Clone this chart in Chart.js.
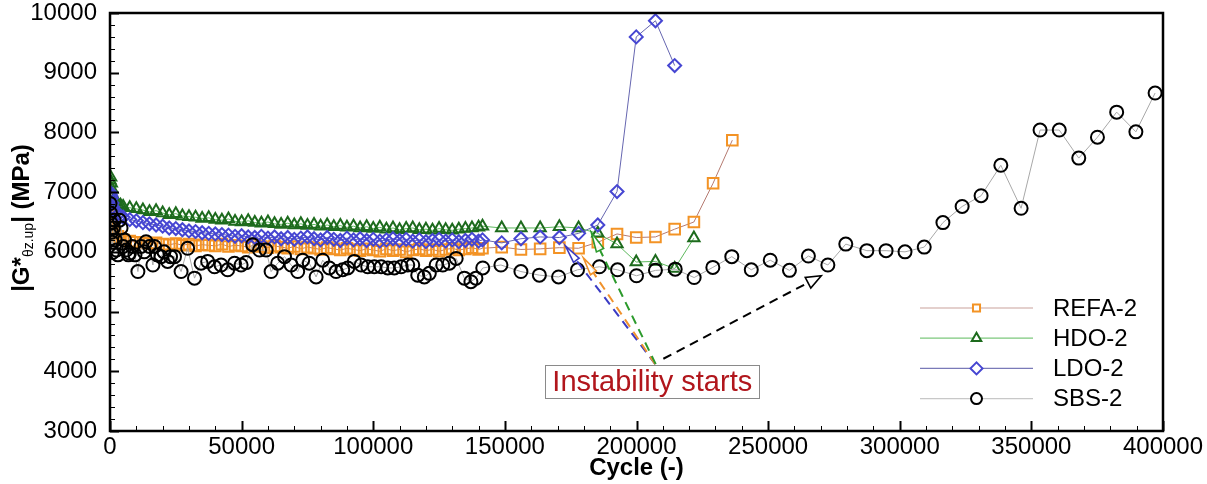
<!DOCTYPE html>
<html><head><meta charset="utf-8">
<script src="https://cdn.jsdelivr.net/npm/chart.js@4.4.1/dist/chart.umd.min.js"></script>
<style>html,body{margin:0;padding:0;background:#fff}#wrap{width:1207px;height:484px}</style>
</head><body><div id="wrap"><canvas id="c" width="1207" height="484"></canvas></div>
<script>
// ---------- data ----------
const seriesNames = ['REFA-2', 'HDO-2', 'LDO-2', 'SBS-2'];
const xTickValues = [0, 50000, 100000, 150000, 200000, 250000, 300000, 350000, 400000];
const yTickValues = [3000, 4000, 5000, 6000, 7000, 8000, 9000, 10000];

const cyclesDense = [0,250,500,750,1000,1500,2000,3000,4000,5000,7500,10000,12500,15000,17500,20000,22500,25000,27500,30000,32500,35000,37500,40000,42500,45000,47500,50000,52500,55000,57500,60000,62500,65000,67500,70000,72500,75000,77500,80000,82500,85000,87500,90000,92500,95000,97500,100000,102500,105000,107500,110000,112500,115000,117500,120000,122500,125000,127500,130000,132500,135000,137500,140000];
const cyclesSparse = [141500,148800,156100,163400,170700,178000,185300,192600,199900,207200,214500,221800,229100,236400];

const refaValues = [6650,6600,6500,6420,6380,6330,6290,6260,6230,6200,
  6180,6160,6150,6140,6150,6130,6120,6140,6110,6130,
  6100,6120,6110,6100,6130,6090,6110,6100,6080,6120,
  6090,6070,6100,6080,6060,6090,6050,6080,6060,6040,
  6070,6050,6030,6060,6040,6020,6050,6030,6010,6050,
  6020,6040,6000,6030,6050,6020,6040,6010,6040,6060,
  6030,6050,6070,6040,
  6060,6080,6040,6050,6070,6060,6160,6300,6240,6250,6380,6500,7150,7870];

const hdoValues = [7200,7250,7150,7050,6950,6880,6830,6800,6780,6760,
  6740,6720,6700,6670,6690,6650,6620,6640,6600,6590,
  6580,6560,6570,6540,6530,6550,6510,6500,6520,6490,
  6480,6500,6470,6460,6480,6450,6470,6440,6460,6430,
  6450,6420,6440,6410,6430,6400,6420,6390,6410,6380,
  6400,6370,6390,6400,6370,6380,6360,6390,6370,6360,
  6380,6390,6400,6410,
  6430,6400,6400,6400,6420,6400,6310,6130,5830,5840,5720,6230];

const ldoValues = [7000,6950,6900,6820,6750,6700,6650,6620,6600,6580,
  6540,6520,6490,6470,6450,6430,6400,6390,6370,6350,
  6340,6320,6310,6300,6290,6280,6260,6270,6250,6240,
  6260,6230,6250,6220,6240,6210,6230,6250,6220,6200,
  6240,6210,6190,6230,6200,6220,6190,6210,6180,6200,
  6220,6190,6210,6180,6200,6170,6190,6210,6180,6200,
  6170,6190,6210,6180,
  6200,6150,6220,6250,6240,6310,6450,7010,9600,9870,9120];

const sbsCycles = [0,200,400,600,800,1000,1300,1600,2000,2500,3000,3600,4200,5000,5500,6200,7000,7400,8500,9500,
  10600,11800,13000,13700,15000,16300,16900,18000,19400,20500,21900,23000,24500,27000,29500,32100,34600,37100,39700,42200,
  44700,47300,49800,51700,54200,56800,59300,61200,63700,66300,68800,71300,73200,75700,78300,80800,83300,85900,88400,90300,
  92800,95400,97900,100400,103000,105500,108000,110600,113100,115000,116900,119400,121300,123900,126400,128900,131500,134600,137100,139000,
  141600,148500,156100,163100,170400,177600,185900,192800,200000,207200,214700,221900,229000,236200,243600,250800,258100,265300,272700,279500,
  287500,294800,302000,309300,316400,323700,330900,338400,346100,353300,360600,368000,375100,382400,389700,397000];
const sbsValues = [6810,6650,6480,6330,6160,5990,6400,6530,6200,6030,5950,6530,6400,6090,6200,6030,5950,5980,6090,5950,
  5670,6090,6000,6170,6090,5780,6090,5950,5920,6000,5840,5920,5920,5670,6060,5560,5810,5840,5750,5780,
  5700,5810,5780,5820,6120,6030,6030,5670,5810,5920,5780,5670,5860,5810,5580,5860,5730,5670,5700,5730,
  5840,5780,5750,5750,5750,5730,5730,5750,5780,5780,5610,5580,5640,5780,5780,5810,5890,5560,5500,5560,
  5730,5780,5670,5610,5580,5700,5750,5700,5600,5690,5710,5570,5740,5920,5700,5860,5690,5930,5780,6130,
  6020,6020,6000,6080,6490,6760,6940,7450,6730,8040,8040,7570,7920,8340,8010,8660];

// annotation anchors (data units)
const instabilityLabel = { text: 'Instability starts', x: 206000, y: 3830 };
const instabilityArrows = [
  { from: [207100, 4120], to: [173000, 6100], color: '#3b3bc4', head: [18, 3.5] },
  { from: [207100, 4120], to: [179800, 5900], color: '#f0922c', head: [18, 3.5] },
  { from: [207300, 4120], to: [182800, 6330], color: '#2c9a2c', head: [20, 4] },
  { from: [210200, 4210], to: [270200, 5600], color: '#000000', head: [15, 6] }
];

// ---------- styling ----------
const FONT = '"Liberation Sans", Arial, Helvetica, sans-serif';
const styles = [
  { marker: '#f39325', line: '#b57a70', legendLine: '#c9a29b', pointStyle: 'rect', radius: 7.5, lr: 5 },
  { marker: '#1d6b1d', line: '#5cb85c', legendLine: '#7cc87c', pointStyle: 'triangle', radius: 6.5, lr: 5.5 },
  { marker: '#4646d2', line: '#6666b0', legendLine: '#7a7ab8', pointStyle: 'rectRot', radius: 6.5, lr: 6 },
  { marker: '#000000', line: '#a8a8a8', legendLine: '#c8c8c8', pointStyle: 'circle', radius: 6.5, lr: 5.5 }
];

function pts(xs, ys) { return ys.map((v, i) => ({ x: xs[i], y: v })); }
const allCycles = cyclesDense.concat(cyclesSparse);
const dataSets = [
  pts(allCycles, refaValues),
  pts(allCycles, hdoValues),
  pts(allCycles, ldoValues),
  pts(sbsCycles, sbsValues)
];

const datasets = seriesNames.map((n, i) => ({
  label: n,
  data: dataSets[i],
  showLine: true,
  borderColor: styles[i].line,
  borderWidth: 1,
  backgroundColor: 'rgba(0,0,0,0)',
  pointStyle: styles[i].pointStyle,
  pointRadius: styles[i].radius,
  pointBorderColor: styles[i].marker,
  pointBackgroundColor: 'rgba(0,0,0,0)',
  pointBorderWidth: 2,
  order: 3 - i
}));

// ---------- plugins ----------
const framePlugin = {
  id: 'frame',
  afterDatasetsDraw(chart) {
    const { ctx, chartArea: a, scales: { x, y } } = chart;
    ctx.save();
    ctx.strokeStyle = '#000';
    for (let v = y.min; v <= y.max; v += 200) {
      const py = Math.round(y.getPixelForValue(v)) + 0.5;
      const major = v % 1000 === 0;
      ctx.lineWidth = major ? 2 : 1;
      ctx.beginPath(); ctx.moveTo(a.left, py); ctx.lineTo(a.left + (major ? 9 : 5), py); ctx.stroke();
    }
    for (let v = x.min; v <= x.max; v += 10000) {
      const px = Math.round(x.getPixelForValue(v)) + 0.5;
      const major = v % 50000 === 0;
      ctx.lineWidth = major ? 2 : 1;
      ctx.beginPath(); ctx.moveTo(px, a.bottom); ctx.lineTo(px, a.bottom - (major ? 10 : 5)); ctx.stroke();
    }
    ctx.lineWidth = 2.5;
    ctx.strokeRect(a.left, a.top, a.right - a.left, a.bottom - a.top);
    ctx.restore();
  }
};

function drawArrowHead(ctx, x1, y1, x2, y2, len, hw) {
  const ang = Math.atan2(y2 - y1, x2 - x1);
  const bx = x2 - len * Math.cos(ang), by = y2 - len * Math.sin(ang);
  const nx = -Math.sin(ang) * hw, ny = Math.cos(ang) * hw;
  ctx.setLineDash([]);
  ctx.beginPath(); ctx.moveTo(x2, y2); ctx.lineTo(bx + nx, by + ny); ctx.lineTo(bx - nx, by - ny); ctx.closePath();
  ctx.fillStyle = 'rgba(255,255,255,0.9)'; ctx.fill(); ctx.stroke();
}

const annotationPlugin = {
  id: 'annot',
  afterDatasetsDraw(chart) {
    const { ctx, scales: { x, y } } = chart;
    ctx.save();
    instabilityArrows.forEach(a => {
      const x1 = x.getPixelForValue(a.from[0]), y1 = y.getPixelForValue(a.from[1]);
      const x2 = x.getPixelForValue(a.to[0]), y2 = y.getPixelForValue(a.to[1]);
      ctx.strokeStyle = a.color; ctx.lineWidth = 2;
      const ang = Math.atan2(y2 - y1, x2 - x1);
      const bx = x2 - a.head[0] * Math.cos(ang), by = y2 - a.head[0] * Math.sin(ang);
      ctx.setLineDash([9, 6]);
      ctx.beginPath(); ctx.moveTo(x1, y1); ctx.lineTo(bx, by); ctx.stroke();
      ctx.lineWidth = 1.6;
      drawArrowHead(ctx, x1, y1, x2, y2, a.head[0], a.head[1]);
    });
    ctx.font = '29px ' + FONT;
    const cx = x.getPixelForValue(instabilityLabel.x), cy = y.getPixelForValue(instabilityLabel.y);
    const w = ctx.measureText(instabilityLabel.text).width + 14, h = 33;
    ctx.fillStyle = '#fff'; ctx.fillRect(cx - w / 2, cy - h / 2, w, h);
    ctx.strokeStyle = '#8a8a8a'; ctx.lineWidth = 1; ctx.setLineDash([]);
    ctx.strokeRect(Math.round(cx - w / 2) + 0.5, Math.round(cy - h / 2) + 0.5, Math.round(w), h);
    ctx.fillStyle = '#b1161c'; ctx.textAlign = 'center'; ctx.textBaseline = 'alphabetic';
    ctx.fillText(instabilityLabel.text, cx, cy - h / 2 + 26.5);
    ctx.restore();
  }
};

const legendPlugin = {
  id: 'customLegend',
  afterDraw(chart) {
    const { ctx, chartArea: a } = chart;
    ctx.save();
    const x0 = a.right - 243, x1 = a.right - 130, xm = (x0 + x1) / 2, xt = a.right - 110;
    seriesNames.forEach((n, i) => {
      const yy = a.bottom - 123 + i * 30.2;
      ctx.strokeStyle = styles[i].legendLine; ctx.lineWidth = 1.2;
      ctx.beginPath(); ctx.moveTo(x0, yy); ctx.lineTo(x1, yy); ctx.stroke();
      ctx.strokeStyle = styles[i].marker; ctx.fillStyle = '#fff'; ctx.lineWidth = 2;
      Chart.helpers.drawPoint(ctx, { pointStyle: styles[i].pointStyle, radius: styles[i].lr, borderWidth: 2 }, xm, yy);
      ctx.fillStyle = '#000'; ctx.font = '24px ' + FONT; ctx.textAlign = 'left'; ctx.textBaseline = 'middle';
      ctx.fillText(n, xt, yy + 1);
    });
    ctx.restore();
  }
};

const yTitlePlugin = {
  id: 'yTitle',
  afterDraw(chart) {
    const { ctx, chartArea: a } = chart;
    ctx.save();
    ctx.translate(21, (a.top + a.bottom) / 2 - 4);
    ctx.rotate(-Math.PI / 2);
    const big = 'bold 24px ' + FONT, small = '14px ' + FONT;
    const parts = [['|G*', big, 0], ['\u03B8z.up', small, 7], ['| (MPa)', big, 0]];
    let total = 0;
    parts.forEach(p => { ctx.font = p[1]; total += ctx.measureText(p[0]).width; });
    let px = -total / 2;
    ctx.fillStyle = '#000'; ctx.textBaseline = 'middle'; ctx.textAlign = 'left';
    parts.forEach(p => {
      ctx.font = p[1];
      ctx.fillText(p[0], px, p[2] + 1);
      px += ctx.measureText(p[0]).width;
    });
    ctx.restore();
  }
};

new Chart(document.getElementById('c'), {
  type: 'scatter',
  data: { datasets },
  options: {
    responsive: false,
    animation: false,
    devicePixelRatio: 1,
    layout: { padding: { left: 0, right: 44, top: 13, bottom: 0 } },
    plugins: { legend: { display: false }, tooltip: { enabled: false } },
    scales: {
      x: {
        type: 'linear', min: 0, max: 400000,
        afterBuildTicks: s => { s.ticks = xTickValues.map(v => ({ value: v })); },
        afterFit: s => { s.height = 53; s.paddingLeft = 0; s.paddingRight = 0; },
        grid: { display: false, drawTicks: false },
        border: { display: false },
        ticks: { color: '#000', font: { family: FONT, size: 24 }, padding: 2, maxRotation: 0, autoSkip: false, callback: v => String(v) },
        title: { display: true, text: 'Cycle (-)', color: '#000', font: { family: FONT, size: 24, weight: 'bold' }, padding: { top: 0, bottom: 1 } }
      },
      y: {
        type: 'linear', min: 3000, max: 10000,
        afterBuildTicks: s => { s.ticks = yTickValues.map(v => ({ value: v })); },
        afterFit: s => { s.width = 110; s.paddingTop = 0; s.paddingBottom = 0; },
        grid: { display: false, drawTicks: false },
        border: { display: false },
        ticks: { color: '#000', font: { family: FONT, size: 24 }, padding: 13, autoSkip: false, callback: v => String(v) }
      }
    }
  },
  plugins: [framePlugin, annotationPlugin, legendPlugin, yTitlePlugin]
});
</script>
</body></html>
